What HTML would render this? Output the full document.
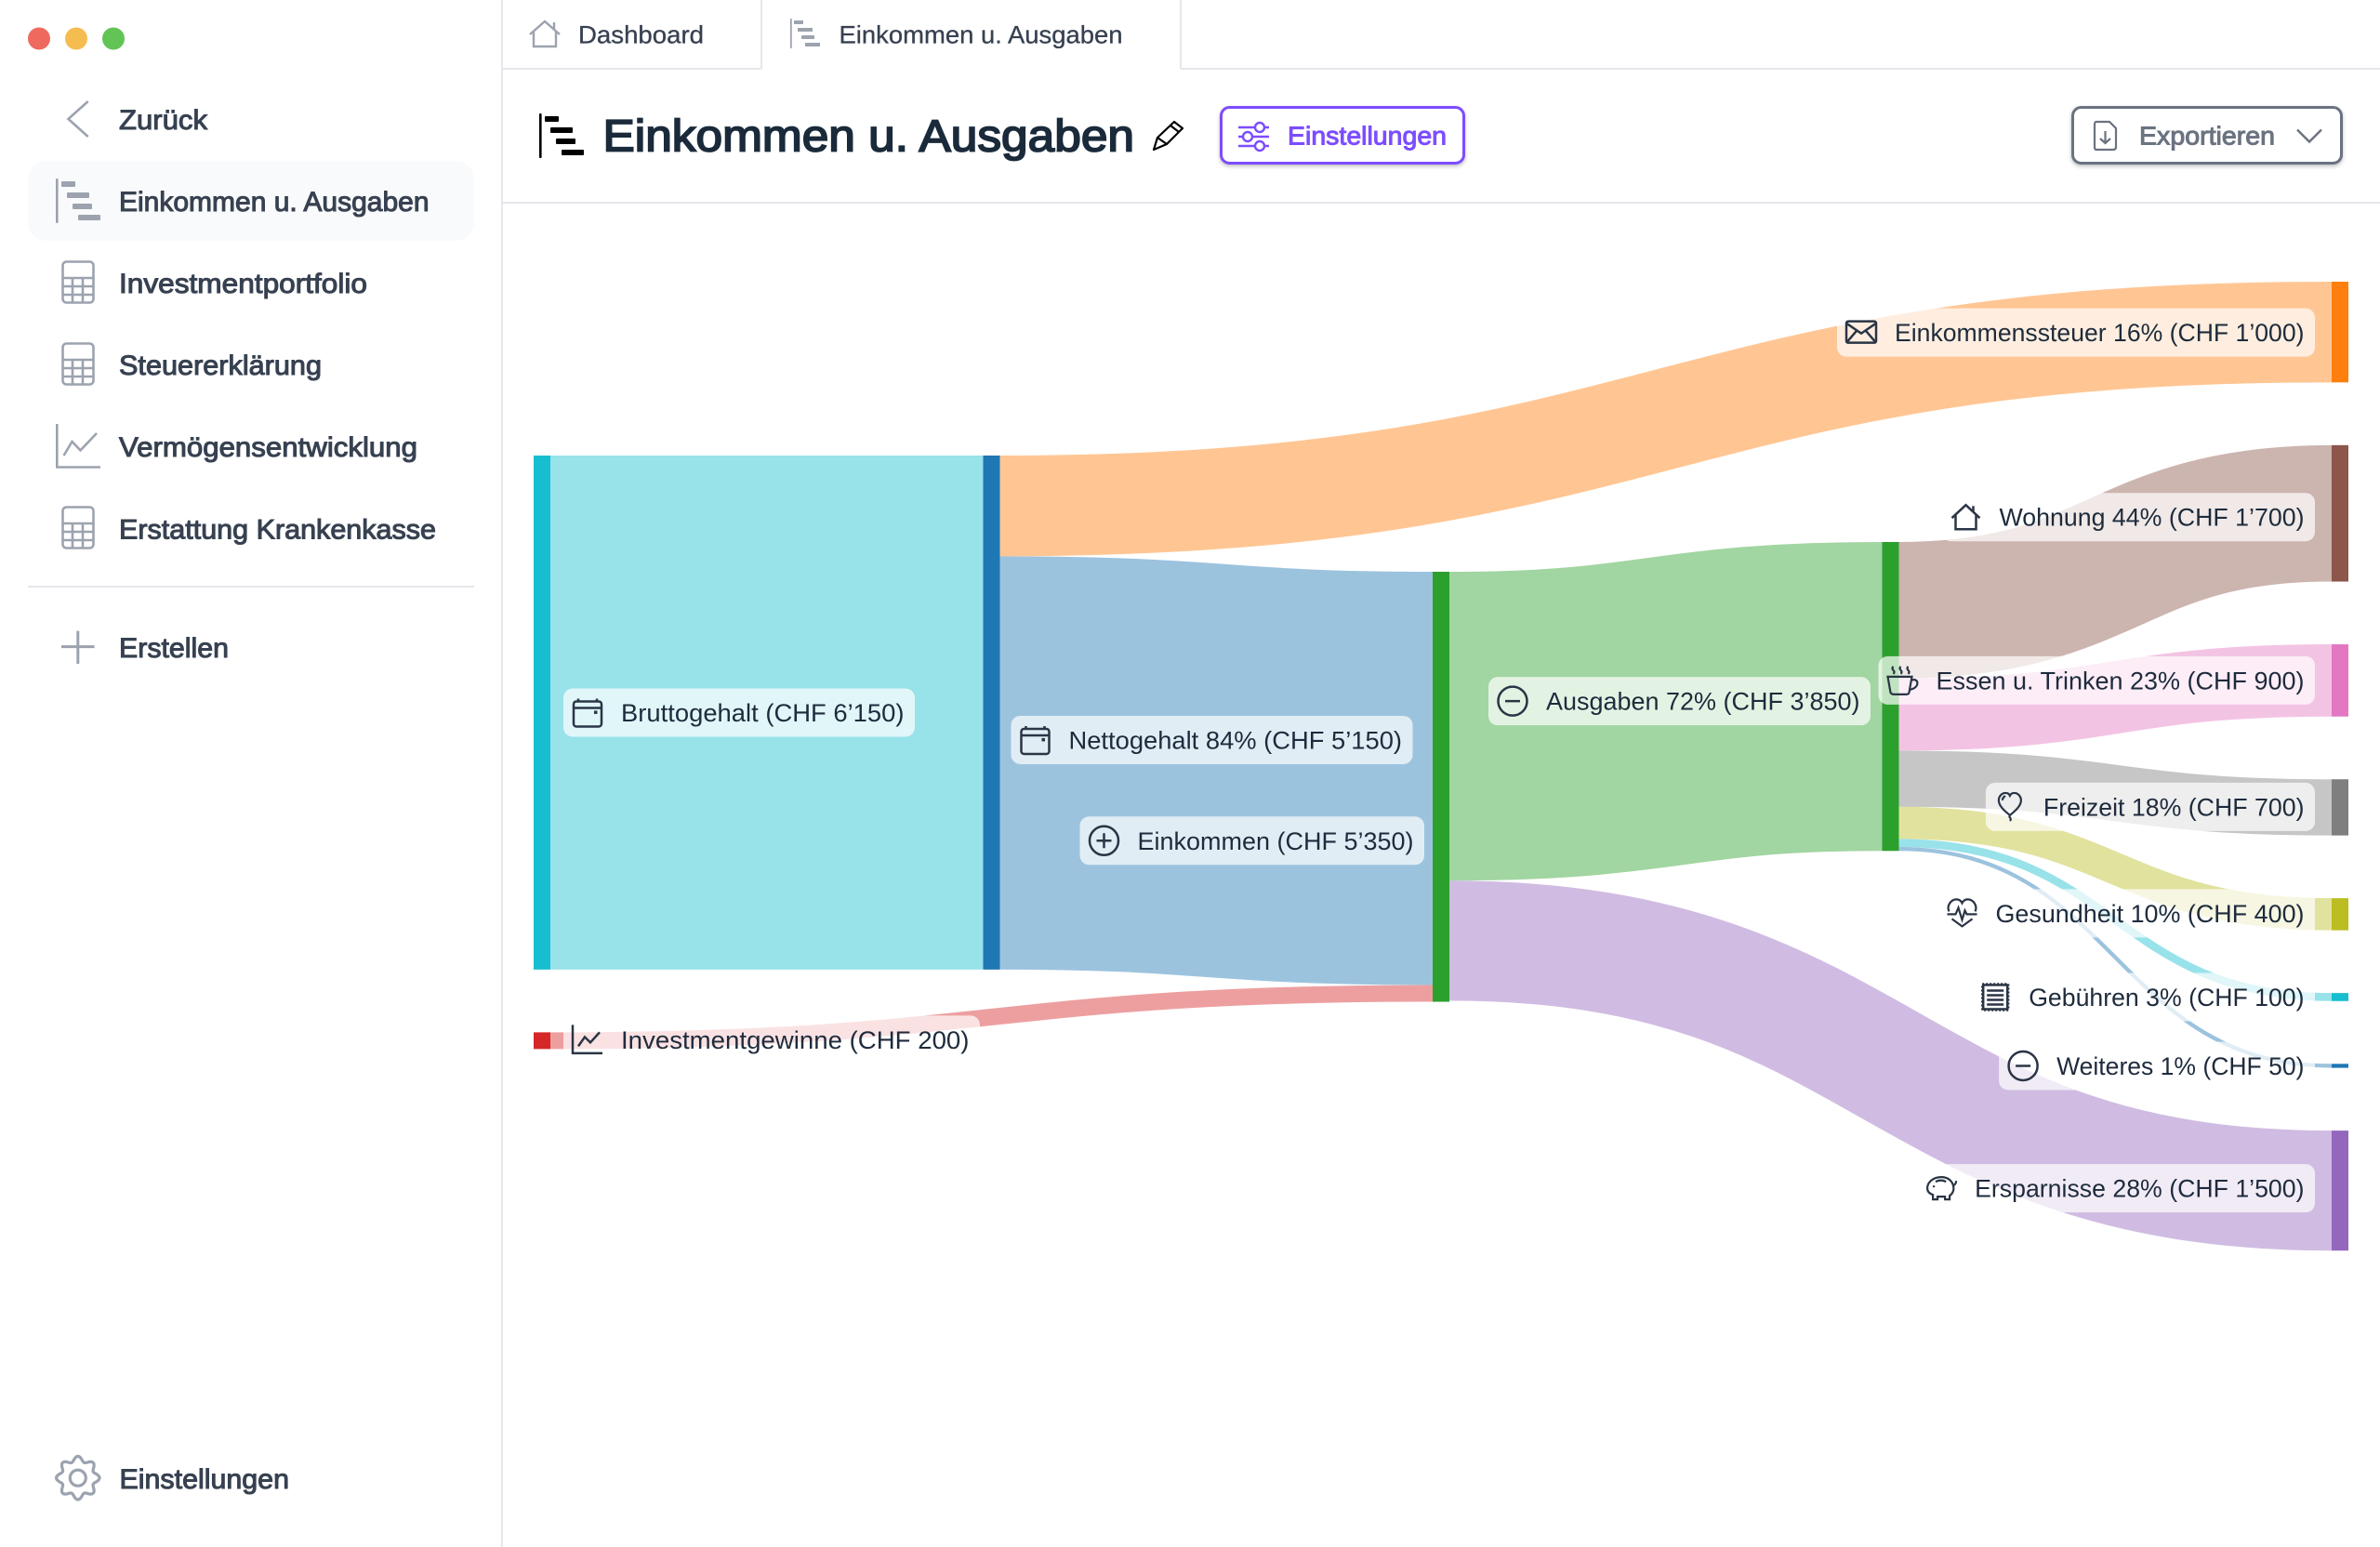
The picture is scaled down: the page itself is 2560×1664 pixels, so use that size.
<!DOCTYPE html>
<html lang="de">
<head>
<meta charset="utf-8">
<title>Einkommen u. Ausgaben</title>
<style>
html,body{margin:0;padding:0;background:#fff;width:2560px;height:1664px;overflow:hidden}
svg{display:block}
text{font-family:"Liberation Sans",sans-serif}
.nav{font-size:30px;font-weight:400;fill:#374151;stroke:#374151;stroke-width:1.05}
.tab{font-size:26.5px;fill:#374151;stroke:#374151;stroke-width:.3}
.ic{fill:none;stroke:#9ca3af;stroke-width:2.6}
.bar{fill:#9ca3af}
.lbl{font-size:27px;fill:#1e2b3c}
</style>
</head>
<body>
<svg xmlns="http://www.w3.org/2000/svg" width="2560" height="1664" viewBox="0 0 2560 1664">
<defs>
<g id="gantt-shape"><rect x="0" y="0" width="2.6" height="48" rx="1"/><rect x="6" y="3" width="15" height="6" rx="1"/><rect x="12" y="15" width="24" height="6" rx="1"/><rect x="18" y="27" width="21" height="6" rx="1"/><rect x="24" y="39" width="24" height="6" rx="1"/></g>
<g id="calc-shape" fill="none" stroke="#9ca3af" stroke-width="2.6"><rect x="1.5" y="1.5" width="33" height="44" rx="4"/><path d="M1.5 19H34.5M1.5 28H34.5M1.5 37H34.5M12 19V45M23 19V45"/></g>
</defs>

<rect x="0" y="0" width="2560" height="1664" fill="#fff"/>

<g>
  <rect x="539" y="0" width="2" height="1664" fill="#e5e7eb"/>
  <circle cx="42" cy="41.5" r="12" fill="#ee6a5f"/>
  <circle cx="82" cy="41.5" r="12" fill="#f5bd4f"/>
  <circle cx="122" cy="41.5" r="12" fill="#61c454"/>

  <g>
    <path d="M94.7 109L73.5 128L94.7 147" fill="none" stroke="#9ca3af" stroke-width="2.6"/>
    <text class="nav" x="128" y="139" textLength="95" lengthAdjust="spacingAndGlyphs">Zurück</text>
  </g>

  <g>
    <rect x="30" y="173" width="480" height="86" rx="20" fill="#f9fafb"/>
    <use href="#gantt-shape" x="60" y="192" class="bar"/>
    <text class="nav" x="128" y="227" textLength="333.5" lengthAdjust="spacingAndGlyphs">Einkommen u. Ausgaben</text>
  </g>
  <g>
    <use href="#calc-shape" x="66" y="280"/>
    <text class="nav" x="128" y="315" textLength="267" lengthAdjust="spacingAndGlyphs">Investmentportfolio</text>
  </g>
  <g>
    <use href="#calc-shape" x="66" y="368"/>
    <text class="nav" x="128" y="403" textLength="218" lengthAdjust="spacingAndGlyphs">Steuererklärung</text>
  </g>
  <g>
    <path d="M61.3 456V502.5H108M68.6 490L77.5 475L86.5 484.4L104 466" class="ic"/>
    <text class="nav" x="128" y="491" textLength="321" lengthAdjust="spacingAndGlyphs">Vermögensentwicklung</text>
  </g>
  <g>
    <use href="#calc-shape" x="66" y="544"/>
    <text class="nav" x="128" y="579.5" textLength="341" lengthAdjust="spacingAndGlyphs">Erstattung Krankenkasse</text>
  </g>
  <rect x="30" y="630" width="480" height="2" fill="#e5e7eb"/>
  <g>
    <path d="M66 695.6H101.6M83.8 678.6V714" fill="none" stroke="#9ca3af" stroke-width="3"/>
    <text class="nav" x="128" y="707" textLength="118" lengthAdjust="spacingAndGlyphs">Erstellen</text>
  </g>
  <g>
    <path id="gear-outline" fill="none" stroke="#9ca3af" stroke-width="3.2"/>
    <circle cx="83.8" cy="1589.7" r="8.5" fill="none" stroke="#9ca3af" stroke-width="3.2"/>
    <text class="nav" x="128.5" y="1601" textLength="182.5" lengthAdjust="spacingAndGlyphs">Einstellungen</text>
  </g>
</g>

<g>
  <rect x="540" y="73" width="279" height="2" fill="#e5e7eb"/>
  <rect x="1270" y="73" width="1290" height="2" fill="#e5e7eb"/>
  <rect x="818" y="0" width="2" height="74" fill="#e5e7eb"/>
  <rect x="1269" y="0" width="2" height="74" fill="#e5e7eb"/>
  <g>
    <path d="M570 37L586 23L602 37M574 33V50H598V33M596 24V31" fill="none" stroke="#9ca3af" stroke-width="2.4"/>
    <text class="tab" x="622" y="46.5" textLength="135" lengthAdjust="spacingAndGlyphs">Dashboard</text>
  </g>
  <g>
    <use href="#gantt-shape" transform="translate(850 20) scale(.667)" class="bar"/>
    <text class="tab" x="902.5" y="46.5" textLength="305" lengthAdjust="spacingAndGlyphs">Einkommen u. Ausgaben</text>
  </g>
</g>

<g>
  <use href="#gantt-shape" x="580" y="122" fill="#000"/>
  <text x="648.5" y="162.5" font-size="48" font-weight="400" fill="#1a2a3a" stroke="#1a2a3a" stroke-width="1.8" textLength="571.5" lengthAdjust="spacingAndGlyphs">Einkommen u. Ausgaben</text>
  <g>
    <path d="M1241 161L1245 148L1263 131L1272 138L1255 155ZM1245 148L1255 155M1259 135L1268 142" fill="#fff" stroke="#000" stroke-width="2.2" stroke-linejoin="round"/>
  </g>
  <g>
    <rect x="1313.5" y="115.5" width="261" height="60" rx="9" fill="#fff" stroke="#7c4dff" stroke-width="3" style="filter:drop-shadow(0 2px 2px rgba(0,0,0,.25))"/>
    <path d="M1332 137H1350M1360 137H1365M1332 147H1337M1347 147H1365M1332 157H1350M1360 157H1365" fill="none" stroke="#7c4dff" stroke-width="2.4"/>
    <circle cx="1355" cy="137" r="5" fill="none" stroke="#7c4dff" stroke-width="2.4"/>
    <circle cx="1342" cy="147" r="5" fill="none" stroke="#7c4dff" stroke-width="2.4"/>
    <circle cx="1355" cy="157" r="5" fill="none" stroke="#7c4dff" stroke-width="2.4"/>
    <text x="1385" y="155.5" font-size="28" font-weight="400" fill="#7c4dff" stroke="#7c4dff" stroke-width="1" textLength="171" lengthAdjust="spacingAndGlyphs">Einstellungen</text>
  </g>
  <g>
    <rect x="2229.5" y="115.5" width="289" height="60" rx="9" fill="#fff" stroke="#6b7280" stroke-width="3" style="filter:drop-shadow(0 2px 2px rgba(0,0,0,.25))"/>
    <path d="M2255 131H2269L2276 138V158Q2276 161 2273 161H2255Q2253 161 2253 158V134Q2253 131 2255 131ZM2264.500 141V154M2259 149L2264.500 154L2270 149" fill="none" stroke="#6b7280" stroke-width="2.2"/>
    <text x="2301" y="155.5" font-size="28" font-weight="400" fill="#6b7280" stroke="#6b7280" stroke-width="1" textLength="146" lengthAdjust="spacingAndGlyphs">Exportieren</text>
    <path d="M2471 139.500L2484 152.500L2497 139.500" fill="none" stroke="#6b7280" stroke-width="2.400"/>
  </g>
  <rect x="540" y="217" width="2020" height="2" fill="#e5e7eb"/>
</g>

<g id="sankey"></g>
</svg>

<script>
// ---- chart data ----
const nodeNames = ['Bruttogehalt','Investmentgewinne','Nettogehalt','Einkommen','Ausgaben','Einkommenssteuer','Wohnung','Essen u. Trinken','Freizeit','Gesundheit','Gebühren','Weiteres','Ersparnisse'];
const nodeColumns = [0,0,1,2,3,4,4,4,4,4,4,4,4];
const nodeColors = ['#17becf','#d62728','#1f77b4','#2ca02c','#2ca02c','#ff7f0e','#8c564b','#e377c2','#7f7f7f','#bcbd22','#17becf','#1f77b4','#9467bd'];
const linkSources = [0,2,2,1,3,3,4,4,4,4,4,4];
const linkTargets = [2,5,3,3,4,12,6,7,8,9,10,11];
const linkValues = [6150,1205,4945,200,3696,1436,1632,864,672,384,96,48];
const linkColorNodes = [0,5,2,1,4,12,6,7,8,9,10,11];
const labelTexts = ['Bruttogehalt (CHF 6’150)','Investmentgewinne (CHF 200)','Nettogehalt 84% (CHF 5’150)','Einkommen (CHF 5’350)','Ausgaben 72% (CHF 3’850)','Einkommenssteuer 16% (CHF 1’000)','Wohnung 44% (CHF 1’700)','Essen u. Trinken 23% (CHF 900)','Freizeit 18% (CHF 700)','Gesundheit 10% (CHF 400)','Gebühren 3% (CHF 100)','Weiteres 1% (CHF 50)','Ersparnisse 28% (CHF 1’500)'];
const labelIcons = ['calendar','chart','calendar','plus','minus','envelope','house','cup','balloon','pulse','receipt','minus','piggy'];

// ---- layout (not data) ----
const plot = {left:574, right:2526, nodeWidth:18, padding:67.5, pxPerChf:0.0899, columnTops:[490,490,615,583,303], columns:4};
const labelLayout = [
  {side:1,gap:14,dy:0,w:302.5},{side:1,gap:14,dy:-1,w:372.5},{side:1,gap:12,dy:29.5,w:356.5},
  {side:-1,gap:9,dy:58,w:295},{side:-1,gap:12.5,dy:5,w:335.5},{side:-1,gap:18,dy:0.5,w:438.5},
  {side:-1,gap:18,dy:4,w:326},{side:-1,gap:18,dy:0,w:394},{side:-1,gap:18,dy:-0.5,w:278.6},
  {side:-1,gap:18,dy:-1,w:330},{side:-1,gap:18,dy:0,w:294.3},{side:-1,gap:18,dy:0,w:264.4},
  {side:-1,gap:18,dy:-2.5,w:352.4}
];
const iconShapes = {
  calendar:'<rect x="-15" y="-12" width="30" height="27" rx="3"/><path d="M-15-5H15M-10-15v3M10-15v3"/><rect x="7" y="-2" width="3.500" height="3.500" fill="#2a3545" stroke="none"/>',
  chart:'<path d="M-16-16V14.500H16M-10 7L-3-3L3 3L13-8"/>',
  plus:'<circle r="15.500"/><path d="M-8 0H8M0-8V8"/>',
  minus:'<circle r="15.500"/><path d="M-8 0H8"/>',
  envelope:'<rect x="-16" y="-12" width="32" height="23" rx="2"/><path d="M-16-10L0 1L16-10M-16 11L-4-3M16 11L4-3"/>',
  house:'<path d="M-15 1L0-13L15 1M-11-2V13H11V-2M8-12V-5"/>',
  cup:'<path d="M-16-4H10L7 13Q6.500 15 4 15H-9Q-12 15-13 13ZM9 0C18-4 19 9 7 10M-10-15q-2 2 0 4q2 2 0 4M-2-15q-2 2 0 4q2 2 0 4M6-15q-2 2 0 4q2 2 0 4" stroke-width="2.200"/>',
  balloon:'<path d="M0 9C-6 4-12-1-12-7C-12-12-8-15-5-15C-2-15-1-14 0-12C1-14 2-15 5-15C8-15 12-12 12-7C12-1 6 4 0 9ZM0 9C-2 12 3 12 0 15M-8-7C-8-10-6-11-5-12" stroke-width="2.200"/>',
  pulse:'<path d="M-14-2C-17-8-12-15-6-15C-3-15-1-13 0-11C1-13 3-15 6-15C12-15 17-8 14-2M-16 1H-7L-4-6L0 7L3-3L5 1H16M-11 6L0 14L11 6" stroke-width="2.200"/>',
  receipt:'<rect x="-13" y="-13" width="26" height="26"/><rect x="-14" y="-14" width="28" height="28" stroke-dasharray="2 2"/><path d="M-9-7H9M-9-2H9M-9 3H9M-9 8H9"/>',
  piggy:'<path d="M-15 0C-15-7-8-12 0-12C7-12 12-8 13-2C14 2 12 6 9 8V12H4V9H-4V12H-9V7C-12 6-15 4-15 0ZM13-3C15-4 16-6 16-8M-6-7C-3-9 2-9 5-7" stroke-width="2.200"/><circle cx="-8" cy="-2" r="1.200" fill="#2a3545" stroke="none"/>'
};

// ---- axis functions ----
function columnX(col) { return plot.left + col * (plot.right - plot.nodeWidth - plot.left) / plot.columns; }
function chfToPx(v) { return v * plot.pxPerChf; }

// ---- build sankey ----
const SVGNS = 'http://www.w3.org/2000/svg';
const chart = document.getElementById('sankey');
function make(tag, attrs, parent) {
  const el = document.createElementNS(SVGNS, tag);
  for (const k in attrs) el.setAttribute(k, attrs[k]);
  parent.appendChild(el);
  return el;
}
const nodeIn = nodeNames.map(() => 0);
const nodeOut = nodeNames.map(() => 0);
linkValues.forEach((v, i) => { nodeOut[linkSources[i]] += v; nodeIn[linkTargets[i]] += v; });
const nodeH = nodeNames.map((_, i) => chfToPx(Math.max(nodeIn[i], nodeOut[i])));
const cursor = plot.columnTops.slice();
const nodeY = nodeNames.map((_, i) => {
  const c = nodeColumns[i];
  const y = cursor[c];
  cursor[c] = y + nodeH[i] + plot.padding;
  return y;
});
const inOffset = nodeY.slice();
const outOffset = nodeY.slice();

const linkLayer = make('g', {}, chart);


linkValues.forEach((v, i) => {
  const s = linkSources[i], t = linkTargets[i], w = chfToPx(v);
  const x0 = columnX(nodeColumns[s]) + plot.nodeWidth, x1 = columnX(nodeColumns[t]);
  const y0 = outOffset[s] + w / 2, y1 = inOffset[t] + w / 2;
  outOffset[s] += w; inOffset[t] += w;
  const xm = (x0 + x1) / 2;
  const p = make('path', {d:`M${x0} ${y0}C${xm} ${y0} ${xm} ${y1} ${x1} ${y1}`, fill:'none', stroke:nodeColors[linkColorNodes[i]], 'stroke-opacity':0.445, 'stroke-width':w}, linkLayer);
  
  
});

const nodeLayer = make('g', {}, chart);


nodeNames.forEach((n, i) => {
  const r = make('rect', {x:columnX(nodeColumns[i]), y:nodeY[i], width:plot.nodeWidth, height:nodeH[i], fill:nodeColors[i]}, nodeLayer);
  
  
});

const labelLayer = make('g', {}, chart);


nodeNames.forEach((n, i) => {
  const L = labelLayout[i];
  const x = columnX(nodeColumns[i]);
  const cy = nodeY[i] + nodeH[i] / 2 + L.dy;
  const left = L.side > 0 ? x + plot.nodeWidth + L.gap : x - L.gap - (62.5 + L.w + 13);
  const width = 62.5 + L.w + 13;
  const g = make('g', {}, labelLayer);
  
  
  const bg = make('rect', {x:left, y:cy - 26, width:width, height:52, rx:10, fill:'#fff', 'fill-opacity':0.7}, g);
  
  
  const ic = make('g', {transform:`translate(${left + 26} ${cy})`, fill:'none', stroke:'#2a3545', 'stroke-width':2.5}, g);
  ic.innerHTML = iconShapes[labelIcons[i]];
  
  
  const t = make('text', {class:'lbl', x:left + 62, y:cy + 9.5, textLength:L.w + 2, lengthAdjust:'spacingAndGlyphs'}, g);
  t.textContent = labelTexts[i];
  
  
});

// ---- gear icon outline ----
(function () {
  let d = '';
  for (let a = 0; a <= 360; a += 4) {
    const th = a * Math.PI / 180, r = 20.5 + 2.8 * Math.cos(8 * th);
    d += (a ? 'L' : 'M') + (83.8 + r * Math.cos(th)).toFixed(1) + ' ' + (1589.7 + r * Math.sin(th)).toFixed(1);
  }
  document.getElementById('gear-outline').setAttribute('d', d + 'Z');
})();
</script>
</body>
</html>
